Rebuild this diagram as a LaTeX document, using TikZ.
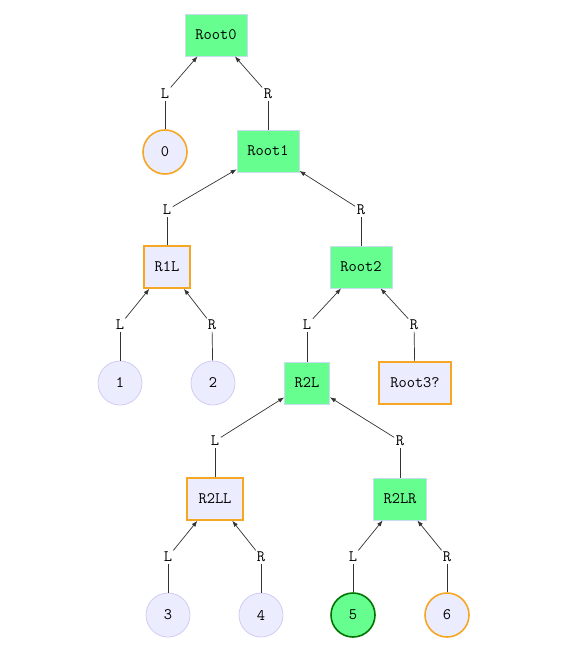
\documentclass[tikz,border=0pt]{standalone}
\usepackage{fontspec}
\usetikzlibrary{arrows.meta}

\definecolor{okgreen}{HTML}{66FF8F}
\definecolor{okedge}{HTML}{C8DCEF}
\definecolor{plainfill}{HTML}{ECECFF}
\definecolor{plainedge}{HTML}{D0CCF4}
\definecolor{warnedge}{HTML}{F5A623}
\definecolor{linegray}{HTML}{333333}

\tikzset{
	treefont/.style={font=\ttfamily\fontsize{16}{18}\selectfont},
	okbox/.style={rectangle, draw=okedge, fill=okgreen, line width=0.8pt, minimum height=42pt, minimum width=62pt, inner xsep=4pt, treefont},
	warnbox/.style={rectangle, draw=warnedge, fill=plainfill, line width=1.6pt, minimum height=42pt, inner xsep=4pt, treefont},
	leaf/.style={circle, draw=plainedge, fill=plainfill, line width=0.8pt, minimum size=44pt, inner sep=0pt, treefont},
	warnleaf/.style={leaf, draw=warnedge, line width=1.6pt},
	goodleaf/.style={leaf, draw=green!45!black, fill=okgreen, line width=1.6pt},
	side/.style={inner sep=1.5pt, treefont},
	link/.style={draw=linegray, line width=0.7pt},
	tolink/.style={link, -{Latex[length=6pt,width=4.5pt]}}
}

\begin{document}
\begin{tikzpicture}[x=1pt, y=-1pt]
	\useasboundingbox (0, 0) rectangle (586, 661);

	\node[okbox] (Root0) at (216, 35) {Root0};
	\node[okbox] (Root1) at (268, 151) {Root1};
	\node[okbox] (Root2) at (361, 267) {Root2};
	\node[okbox, minimum width=45pt] (R2L) at (307, 383) {R2L};
	\node[okbox, minimum width=53pt] (R2LR) at (400, 499) {R2LR};

	\node[warnbox, minimum width=46pt] (R1L) at (167, 267) {R1L};
	\node[warnbox, minimum width=72pt] (Root3) at (415, 383) {Root3?};
	\node[warnbox, minimum width=56pt] (R2LL) at (215, 499) {R2LL};

	\node[warnleaf] (n0) at (165, 152) {0};
	\node[leaf] (n1) at (120, 383) {1};
	\node[leaf] (n2) at (213, 383) {2};
	\node[leaf] (n3) at (168, 615) {3};
	\node[leaf] (n4) at (261, 615) {4};
	\node[goodleaf] (n5) at (353, 615) {5};
	\node[warnleaf] (n6) at (447, 615) {6};

	% edge labels
	\node[side] (sL0) at (165, 94) {L};
	\node[side] (sR0) at (268, 94) {R};
	\node[side] (sL1) at (167, 210) {L};
	\node[side] (sR1) at (361, 210) {R};
	\node[side] (sL1L) at (120, 325) {L};
	\node[side] (sR1L) at (212, 325) {R};
	\node[side] (sL2) at (307, 325) {L};
	\node[side] (sR2) at (414, 325) {R};
	\node[side] (sL2L) at (215, 441) {L};
	\node[side] (sR2L) at (400, 441) {R};
	\node[side] (sL2LL) at (168, 557) {L};
	\node[side] (sR2LL) at (261, 557) {R};
	\node[side] (sL2LR) at (353, 557) {L};
	\node[side] (sR2LR) at (447, 557) {R};

	\draw[link] (n0) -- (sL0);
	\draw[tolink] (sL0) -- (Root0);
	\draw[link] (Root1) -- (sR0);
	\draw[tolink] (sR0) -- (Root0);

	\draw[link] (R1L) -- (sL1);
	\draw[tolink] (sL1) -- (Root1);
	\draw[link] (Root2) -- (sR1);
	\draw[tolink] (sR1) -- (Root1);

	\draw[link] (n1) -- (sL1L);
	\draw[tolink] (sL1L) -- (R1L);
	\draw[link] (n2) -- (sR1L);
	\draw[tolink] (sR1L) -- (R1L);

	\draw[link] (R2L) -- (sL2);
	\draw[tolink] (sL2) -- (Root2);
	\draw[link] (Root3) -- (sR2);
	\draw[tolink] (sR2) -- (Root2);

	\draw[link] (R2LL) -- (sL2L);
	\draw[tolink] (sL2L) -- (R2L);
	\draw[link] (R2LR) -- (sR2L);
	\draw[tolink] (sR2L) -- (R2L);

	\draw[link] (n3) -- (sL2LL);
	\draw[tolink] (sL2LL) -- (R2LL);
	\draw[link] (n4) -- (sR2LL);
	\draw[tolink] (sR2LL) -- (R2LL);

	\draw[link] (n5) -- (sL2LR);
	\draw[tolink] (sL2LR) -- (R2LR);
	\draw[link] (n6) -- (sR2LR);
	\draw[tolink] (sR2LR) -- (R2LR);
\end{tikzpicture}
\end{document}
